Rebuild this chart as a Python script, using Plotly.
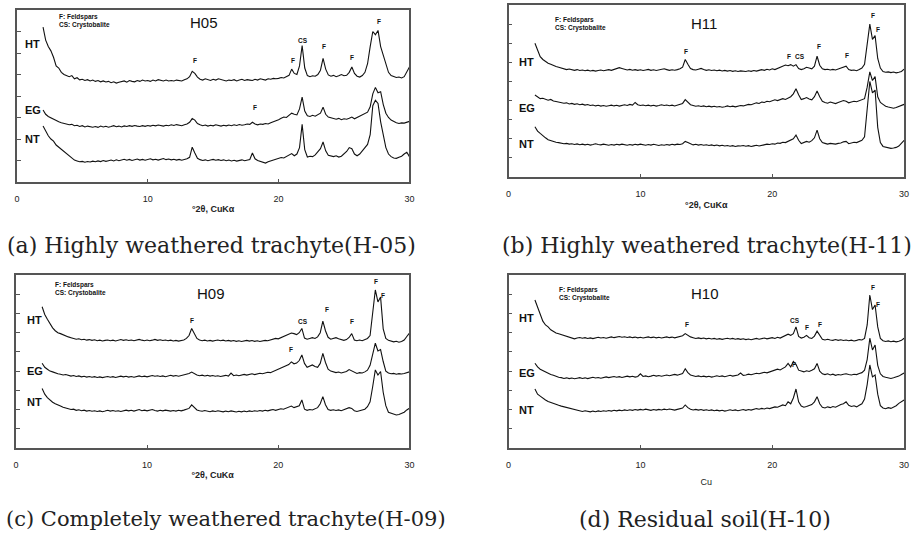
import plotly.graph_objects as go

# ---------------- data: scan positions (deg 2-theta) ----------------
TWO_THETA = [
    2.0, 2.2, 2.4, 2.6, 2.8, 3.0, 3.2, 3.4, 3.6, 3.8,
    4.0, 4.2, 4.4, 4.6, 4.8, 5.0, 5.2, 5.4, 5.6, 5.8,
    6.0, 6.2, 6.4, 6.6, 6.8, 7.0, 7.2, 7.4, 7.6, 7.8,
    8.0, 8.2, 8.4, 8.6, 8.8, 9.0, 9.2, 9.4, 9.6, 9.8,
    10.0, 10.2, 10.4, 10.6, 10.8, 11.0, 11.2, 11.4, 11.6, 11.8,
    12.0, 12.2, 12.4, 12.6, 12.8, 13.0, 13.2, 13.4, 13.6, 13.8,
    14.0, 14.2, 14.4, 14.6, 14.8, 15.0, 15.2, 15.4, 15.6, 15.8,
    16.0, 16.2, 16.4, 16.6, 16.8, 17.0, 17.2, 17.4, 17.6, 17.8,
    18.0, 18.2, 18.4, 18.6, 18.8, 19.0, 19.2, 19.4, 19.6, 19.8,
    20.0, 20.2, 20.4, 20.6, 20.8, 21.0, 21.2, 21.4, 21.6, 21.8,
    22.0, 22.2, 22.4, 22.6, 22.8, 23.0, 23.2, 23.4, 23.6, 23.8,
    24.0, 24.2, 24.4, 24.6, 24.8, 25.0, 25.2, 25.4, 25.6, 25.8,
    26.0, 26.2, 26.4, 26.6, 26.8, 27.0, 27.2, 27.4, 27.6, 27.8,
    28.0, 28.2, 28.4, 28.6, 28.8, 29.0, 29.2, 29.4, 29.6, 29.8,
    30.0,
]

# ---------------- H05 (offset intensities, arbitrary units) ----------------
H05_HT = [
    7.20, 6.60, 6.30, 6.10, 5.80, 5.40, 5.30, 5.10, 5.00, 4.95,
    4.90, 4.95, 4.80, 4.85, 4.75, 4.78, 4.72, 4.76, 4.70, 4.74,
    4.68, 4.72, 4.66, 4.70, 4.65, 4.68, 4.62, 4.66, 4.60, 4.64,
    4.66, 4.70, 4.64, 4.72, 4.68, 4.66, 4.72, 4.68, 4.74, 4.70,
    4.72, 4.68, 4.74, 4.70, 4.76, 4.72, 4.70, 4.74, 4.70, 4.72,
    4.70, 4.74, 4.72, 4.70, 4.76, 4.80, 4.90, 5.15, 5.05, 4.88,
    4.78, 4.74, 4.80, 4.76, 4.72, 4.78, 4.74, 4.80, 4.76, 4.72,
    4.70, 4.74, 4.72, 4.76, 4.70, 4.74, 4.78, 4.72, 4.76, 4.74,
    4.72, 4.78, 4.74, 4.80, 4.76, 4.74, 4.80, 4.78, 4.82, 4.80,
    4.82, 4.86, 4.84, 4.90, 4.96, 5.25, 5.05, 5.00, 5.40, 6.35,
    5.30, 4.95, 4.90, 4.94, 4.92, 5.00, 5.20, 5.75, 5.25, 4.98,
    4.92, 4.96, 4.90, 4.94, 5.00, 4.94, 4.96, 5.10, 5.35, 5.05,
    4.92, 4.88, 4.95, 5.10, 5.50, 6.30, 7.00, 6.85, 7.05, 6.30,
    5.90, 5.40, 5.10, 4.95, 4.90, 4.86, 4.88, 4.84, 4.90, 5.10,
    5.35,
]
H05_EG = [
    3.35, 3.15, 3.05, 2.98, 2.92, 2.85, 2.80, 2.76, 2.72, 2.70,
    2.66, 2.68, 2.62, 2.64, 2.58, 2.62, 2.56, 2.60, 2.57, 2.55,
    2.58, 2.54, 2.60, 2.56, 2.59, 2.55, 2.58, 2.62, 2.57, 2.60,
    2.56, 2.61, 2.58, 2.62, 2.59, 2.63, 2.60, 2.58, 2.62, 2.59,
    2.63, 2.60, 2.64, 2.61, 2.65, 2.62, 2.60, 2.64, 2.62, 2.66,
    2.63, 2.67, 2.64, 2.62, 2.66, 2.70, 2.78, 2.95, 2.88, 2.72,
    2.66, 2.62, 2.65, 2.60, 2.64, 2.61, 2.66, 2.62, 2.60, 2.64,
    2.61, 2.65, 2.62, 2.66, 2.63, 2.67, 2.64, 2.66, 2.70, 2.68,
    2.78, 2.70, 2.66, 2.70, 2.68, 2.72, 2.70, 2.76, 2.80, 2.86,
    2.90, 2.96, 3.02, 3.00, 3.10, 3.20, 3.15, 3.12, 3.40, 3.95,
    3.30, 3.08, 3.05, 3.10, 3.06, 3.12, 3.20, 3.48, 3.15, 3.02,
    2.98, 2.95, 2.92, 2.96, 2.90, 2.94, 2.92, 2.96, 3.02, 2.94,
    3.00, 3.05, 3.10, 3.16, 3.25, 3.50, 4.10, 4.40, 4.15, 4.20,
    3.60, 3.20, 3.00, 2.88, 2.80, 2.76, 2.72, 2.75, 2.74, 2.78,
    2.82,
]
H05_NT = [
    2.60, 2.35, 2.15, 2.00, 1.90, 1.72, 1.62, 1.50, 1.40, 1.30,
    1.18, 1.10, 1.02, 0.98, 0.94, 0.96, 0.92, 0.95, 0.93, 0.97,
    0.94, 0.98, 0.95, 1.00, 0.96, 0.99, 1.02, 0.98, 1.03, 0.99,
    1.02, 1.06, 1.01, 1.05, 1.00, 1.04, 1.07, 1.02, 1.05, 1.01,
    1.04, 1.08, 1.03, 1.06, 1.02, 1.05, 1.09, 1.04, 1.07, 1.03,
    1.06, 1.02, 1.05, 1.01, 1.04, 1.08, 1.15, 1.62, 1.35, 1.10,
    1.04, 1.00, 1.03, 0.99, 1.02, 1.05, 1.01, 1.04, 1.00, 1.03,
    0.99, 1.02, 0.98, 1.01, 0.97, 1.00, 1.03, 0.99, 1.02, 1.05,
    1.35, 1.08, 1.00, 0.96, 0.92, 0.88, 0.94, 0.98, 1.02, 1.06,
    1.10, 1.14, 1.12, 1.18, 1.24, 1.32, 1.22, 1.30, 1.60, 2.68,
    1.50, 1.16, 1.20, 1.18, 1.26, 1.40, 1.55, 1.86, 1.45, 1.24,
    1.20, 1.18, 1.22, 1.16, 1.20, 1.30, 1.42, 1.60, 1.55, 1.30,
    1.22, 1.30, 1.45, 1.60, 1.75, 2.20, 3.55, 3.80, 3.65, 2.80,
    2.20, 1.60, 1.30, 1.18, 1.12, 1.10, 1.15, 1.20, 1.30, 1.38,
    1.18,
]

# ---------------- H11 ----------------
H11_HT = [
    7.00, 6.60, 6.30, 6.15, 6.05, 5.95, 5.90, 5.82, 5.78, 5.74,
    5.70, 5.66, 5.62, 5.65, 5.60, 5.58, 5.62, 5.57, 5.60, 5.56,
    5.59, 5.55, 5.58, 5.54, 5.57, 5.60, 5.56, 5.59, 5.62, 5.58,
    5.62, 5.66, 5.72, 5.68, 5.64, 5.60, 5.63, 5.59, 5.62, 5.58,
    5.61, 5.57, 5.60, 5.63, 5.58, 5.61, 5.57, 5.60, 5.64, 5.66,
    5.62, 5.58, 5.61, 5.59, 5.62, 5.66, 5.75, 6.15, 5.90, 5.68,
    5.62, 5.60, 5.64, 5.68, 5.62, 5.58, 5.61, 5.57, 5.60, 5.56,
    5.59, 5.55, 5.58, 5.54, 5.57, 5.53, 5.56, 5.52, 5.55, 5.54,
    5.52, 5.56, 5.53, 5.57, 5.54, 5.58, 5.62, 5.58, 5.64, 5.60,
    5.66, 5.62, 5.68, 5.72, 5.78, 5.86, 5.82, 5.88, 5.80, 5.88,
    5.68, 5.62, 5.66, 5.74, 5.70, 5.66, 5.80, 6.32, 5.85, 5.66,
    5.62, 5.64, 5.60, 5.63, 5.60, 5.64, 5.68, 5.75, 5.80, 5.62,
    5.58, 5.60, 5.56, 5.62, 5.70, 5.90, 7.00, 8.00, 7.20, 7.40,
    6.20, 5.70, 5.52, 5.48, 5.50, 5.46, 5.49, 5.45, 5.48, 5.52,
    5.64,
]
H11_EG = [
    4.29, 4.18, 4.10, 4.12, 4.05, 4.02, 4.06, 3.98, 3.95, 3.92,
    3.90, 3.86, 3.88, 3.82, 3.85, 3.80, 3.83, 3.78, 3.81, 3.76,
    3.79, 3.74, 3.77, 3.72, 3.75, 3.71, 3.74, 3.70, 3.73, 3.76,
    3.72, 3.75, 3.71, 3.74, 3.78, 3.74, 3.80, 3.76, 3.90, 3.78,
    3.74, 3.77, 3.73, 3.76, 3.72, 3.75, 3.71, 3.74, 3.78, 3.74,
    3.77, 3.73, 3.76, 3.72, 3.75, 3.78, 3.85, 4.05, 3.92, 3.78,
    3.74, 3.70, 3.73, 3.69, 3.72, 3.68, 3.71, 3.67, 3.70, 3.66,
    3.69, 3.65, 3.68, 3.72, 3.68, 3.71, 3.67, 3.70, 3.74, 3.72,
    3.76, 3.80, 3.78, 3.84, 3.88, 3.85, 3.92, 3.90, 3.96, 3.94,
    3.98, 4.04, 4.00, 4.06, 4.10, 4.06, 4.14, 4.20, 4.35, 4.62,
    4.30, 4.05, 4.10, 4.16, 4.08, 4.04, 4.20, 4.50, 4.20, 3.96,
    3.90, 3.86, 3.92, 3.88, 3.84, 3.90, 3.94, 4.00, 3.96, 3.88,
    3.92, 3.96, 3.94, 4.00, 4.02, 4.10, 4.70, 5.50, 5.05, 5.25,
    4.20, 3.90, 3.80, 3.70, 3.66, 3.62, 3.60, 3.64, 3.68, 3.74,
    3.80,
]
H11_NT = [
    2.63, 2.40, 2.28, 2.15, 2.05, 1.95, 1.90, 1.86, 1.82, 1.80,
    1.78, 1.74, 1.76, 1.72, 1.74, 1.70, 1.73, 1.69, 1.72, 1.68,
    1.71, 1.67, 1.70, 1.74, 1.70, 1.68, 1.72, 1.69, 1.66, 1.70,
    1.67, 1.71, 1.68, 1.72, 1.69, 1.66, 1.70, 1.67, 1.71, 1.68,
    1.72, 1.69, 1.66, 1.70, 1.67, 1.71, 1.68, 1.65, 1.69, 1.66,
    1.70, 1.67, 1.71, 1.68, 1.72, 1.70, 1.74, 1.86, 1.80, 1.72,
    1.68, 1.71, 1.67, 1.70, 1.66, 1.69, 1.65, 1.68, 1.64, 1.67,
    1.63, 1.66, 1.62, 1.65, 1.61, 1.64, 1.60, 1.63, 1.62, 1.65,
    1.61, 1.64, 1.60, 1.63, 1.66, 1.62, 1.65, 1.68, 1.72, 1.70,
    1.74, 1.72, 1.78, 1.76, 1.82, 1.80, 1.86, 1.92, 2.00, 2.20,
    1.92, 1.75, 1.80, 1.86, 1.82, 1.90, 2.05, 2.45, 2.00, 1.80,
    1.76, 1.72, 1.76, 1.74, 1.72, 1.76, 1.78, 1.84, 1.86, 1.74,
    1.78, 1.82, 1.80, 1.86, 1.92, 2.10, 3.50, 5.00, 4.40, 4.55,
    2.60, 1.80, 1.60, 1.56, 1.54, 1.50, 1.52, 1.55, 1.62, 1.78,
    1.92,
]

# ---------------- H09 ----------------
H09_HT = [
    7.35, 6.95, 6.70, 6.45, 6.25, 6.10, 6.00, 5.95, 5.88, 5.84,
    5.78, 5.74, 5.70, 5.66, 5.68, 5.63, 5.66, 5.61, 5.64, 5.60,
    5.63, 5.58, 5.61, 5.57, 5.60, 5.62, 5.58, 5.61, 5.57, 5.60,
    5.64, 5.60, 5.63, 5.59, 5.62, 5.58, 5.61, 5.65, 5.61, 5.58,
    5.62, 5.58, 5.61, 5.65, 5.60, 5.63, 5.59, 5.62, 5.58, 5.61,
    5.57, 5.60, 5.56, 5.59, 5.62, 5.70, 5.85, 6.22, 5.95, 5.70,
    5.62, 5.58, 5.61, 5.57, 5.60, 5.56, 5.59, 5.62, 5.58, 5.61,
    5.57, 5.60, 5.56, 5.59, 5.55, 5.58, 5.54, 5.57, 5.60, 5.56,
    5.59, 5.55, 5.58, 5.54, 5.57, 5.60, 5.58, 5.62, 5.66, 5.70,
    5.68, 5.74, 5.80, 5.86, 5.92, 5.98, 5.95, 5.90, 6.00, 6.22,
    5.72, 5.66, 5.70, 5.74, 5.70, 5.78, 6.00, 6.60, 6.10, 5.76,
    5.66, 5.70, 5.74, 5.68, 5.62, 5.60, 5.64, 5.75, 5.95, 5.62,
    5.58, 5.62, 5.58, 5.64, 5.70, 5.85, 7.20, 8.22, 7.60, 7.85,
    6.20, 5.70, 5.60, 5.56, 5.52, 5.55, 5.50, 5.54, 5.62, 5.80,
    5.98,
]
H09_EG = [
    4.41, 4.20, 4.10, 4.00, 3.96, 3.90, 3.86, 3.84, 3.80, 3.82,
    3.78, 3.74, 3.77, 3.72, 3.75, 3.70, 3.73, 3.69, 3.72, 3.68,
    3.71, 3.67, 3.70, 3.66, 3.69, 3.72, 3.68, 3.71, 3.67, 3.70,
    3.74, 3.70, 3.73, 3.69, 3.72, 3.68, 3.71, 3.75, 3.71, 3.74,
    3.70, 3.73, 3.77, 3.73, 3.76, 3.72, 3.75, 3.71, 3.74, 3.78,
    3.74, 3.77, 3.73, 3.76, 3.80, 3.84, 3.88, 3.95, 3.86, 3.80,
    3.76, 3.79, 3.75, 3.78, 3.74, 3.77, 3.73, 3.76, 3.72, 3.75,
    3.78, 3.74, 3.90, 3.76, 3.80, 3.76, 3.79, 3.83, 3.79, 3.82,
    3.86, 3.82, 3.85, 3.89, 3.86, 3.90, 3.94, 3.92, 3.98, 4.04,
    4.08, 4.14, 4.20, 4.26, 4.34, 4.48, 4.38, 4.42, 4.55, 4.84,
    4.40, 4.20, 4.28, 4.32, 4.24, 4.20, 4.40, 4.92, 4.45, 4.10,
    4.00, 3.96, 3.92, 3.95, 3.90, 3.94, 3.98, 4.08, 4.02, 3.92,
    3.88, 3.92, 3.90, 3.96, 4.05, 4.30, 4.90, 5.45, 5.05, 5.12,
    4.50, 4.00, 3.90, 3.86, 3.88, 3.84, 3.87, 3.85, 3.88, 3.92,
    3.96,
]
H09_NT = [
    3.10, 2.80, 2.62, 2.48, 2.38, 2.30, 2.22, 2.18, 2.12, 2.08,
    2.05, 2.00, 2.02, 1.96, 1.99, 1.94, 1.97, 1.92, 1.95, 1.91,
    1.94, 1.90, 1.93, 1.89, 1.92, 1.96, 1.92, 1.95, 1.91, 1.94,
    1.90, 1.93, 1.97, 1.93, 1.96, 1.92, 1.95, 2.00, 1.94, 1.97,
    1.93, 1.96, 2.00, 1.95, 1.92, 1.96, 1.93, 1.97, 1.94, 1.92,
    1.95, 1.92, 1.96, 1.93, 1.97, 2.00, 2.06, 2.24, 2.10, 1.98,
    1.94, 1.91, 1.95, 1.92, 1.89, 1.93, 1.90, 1.94, 1.91, 1.88,
    1.92, 1.89, 1.93, 1.90, 1.87, 1.91, 1.88, 1.92, 1.89, 1.93,
    1.90, 1.94, 1.91, 1.95, 1.92, 1.96, 1.93, 1.97, 2.00, 1.96,
    2.00, 2.04, 2.02, 2.08, 2.12, 2.18, 2.10, 2.14, 2.20, 2.50,
    2.02, 1.96, 2.00, 1.98, 2.02, 2.10, 2.30, 2.67, 2.25, 2.00,
    1.96, 1.99, 1.95, 1.98, 1.94, 2.00, 2.04, 2.10, 2.06, 1.94,
    1.90, 1.94, 1.98, 2.02, 2.15, 2.40, 3.20, 4.06, 3.80, 3.98,
    2.90, 2.20, 1.86, 1.80, 1.76, 1.72, 1.74, 1.78, 1.86, 1.98,
    2.07,
]

# ---------------- H10 ----------------
H10_HT = [
    7.70, 7.30, 6.95, 6.60, 6.40, 6.30, 6.15, 6.05, 5.98, 5.94,
    5.90, 5.86, 5.82, 5.78, 5.74, 5.68, 5.72, 5.75, 5.71, 5.74,
    5.70, 5.73, 5.69, 5.72, 5.76, 5.72, 5.75, 5.71, 5.74, 5.78,
    5.74, 5.77, 5.80, 5.76, 5.79, 5.75, 5.78, 5.74, 5.77, 5.73,
    5.76, 5.72, 5.75, 5.78, 5.74, 5.77, 5.73, 5.76, 5.72, 5.75,
    5.78, 5.74, 5.77, 5.73, 5.76, 5.79, 5.84, 5.95, 5.86, 5.78,
    5.74, 5.70, 5.73, 5.69, 5.72, 5.68, 5.71, 5.67, 5.70, 5.66,
    5.69, 5.65, 5.68, 5.71, 5.67, 5.70, 5.66, 5.69, 5.65, 5.68,
    5.64, 5.67, 5.63, 5.66, 5.70, 5.66, 5.69, 5.72, 5.68, 5.71,
    5.74, 5.70, 5.76, 5.72, 5.78, 5.84, 5.92, 5.86, 5.95, 6.30,
    5.80, 5.72, 5.76, 5.86, 5.74, 5.70, 5.82, 6.08, 5.90, 5.66,
    5.62, 5.66, 5.62, 5.60, 5.64, 5.60, 5.63, 5.59, 5.62, 5.58,
    5.61, 5.57, 5.60, 5.64, 5.62, 5.70, 6.40, 7.96, 7.20, 7.44,
    6.30, 5.70, 5.58, 5.54, 5.57, 5.53, 5.56, 5.52, 5.55, 5.60,
    5.71,
]
H10_EG = [
    4.41, 4.22, 4.10, 4.02, 3.95, 3.88, 3.82, 3.78, 3.72, 3.68,
    3.66, 3.62, 3.65, 3.61, 3.64, 3.60, 3.63, 3.66, 3.62, 3.65,
    3.61, 3.64, 3.68, 3.64, 3.67, 3.63, 3.66, 3.70, 3.66, 3.69,
    3.72, 3.68, 3.71, 3.67, 3.70, 3.74, 3.70, 3.73, 3.69, 3.72,
    3.86, 3.72, 3.75, 3.71, 3.74, 3.78, 3.74, 3.77, 3.73, 3.76,
    3.80, 3.76, 3.79, 3.83, 3.79, 3.82, 3.88, 4.12, 3.92, 3.80,
    3.76, 3.72, 3.75, 3.71, 3.74, 3.70, 3.73, 3.69, 3.72, 3.76,
    3.72, 3.75, 3.71, 3.74, 3.78, 3.74, 3.77, 3.80, 3.90, 3.78,
    3.80, 3.84, 3.81, 3.85, 3.89, 3.86, 3.90, 3.94, 3.91, 3.96,
    4.00, 4.04, 4.10, 4.06, 4.14, 4.22, 4.40, 4.22, 4.50, 4.35,
    4.05, 4.00, 3.96, 4.02, 3.98, 4.04, 4.12, 4.40, 4.00, 3.86,
    3.82, 3.86, 3.80, 3.84, 3.78, 3.82, 3.80, 3.84, 3.86, 3.82,
    3.80, 3.84, 3.82, 3.88, 3.92, 4.05, 4.60, 5.71, 5.10, 5.36,
    4.30, 3.86, 3.72, 3.68, 3.66, 3.62, 3.65, 3.68, 3.74, 3.82,
    3.90,
]
H10_NT = [
    3.07, 2.80, 2.70, 2.58, 2.50, 2.42, 2.36, 2.30, 2.26, 2.22,
    2.18, 2.14, 2.10, 2.06, 2.02, 2.00, 1.96, 1.93, 1.90, 1.94,
    1.91, 1.88, 1.92, 1.89, 1.93, 1.90, 1.94, 1.91, 1.95, 1.92,
    1.96, 1.93, 1.97, 1.94, 1.98, 1.95, 1.99, 1.96, 2.00, 1.97,
    2.01, 1.98, 2.02, 1.99, 1.96, 2.00, 1.97, 2.01, 1.98, 2.02,
    1.99, 2.03, 2.00, 1.97, 2.01, 2.04, 2.08, 2.24, 2.10, 2.02,
    1.98, 2.01, 1.97, 2.00, 1.96, 1.99, 1.95, 1.98, 1.94, 1.97,
    1.93, 1.96, 1.92, 1.95, 1.99, 1.95, 1.98, 1.94, 1.97, 2.00,
    1.96, 2.00, 1.97, 2.01, 2.05, 2.02, 2.06, 2.03, 2.08, 2.05,
    2.10, 2.14, 2.12, 2.18, 2.24, 2.20, 2.40, 2.30, 2.60, 3.07,
    2.40, 2.18, 2.12, 2.16, 2.20, 2.26, 2.40, 2.67, 2.30, 2.12,
    2.08, 2.14, 2.10, 2.16, 2.12, 2.20, 2.26, 2.30, 2.40, 2.22,
    2.16, 2.20, 2.14, 2.22, 2.30, 2.55, 3.30, 4.32, 3.70, 3.80,
    2.80, 2.20, 2.08, 2.04, 2.10, 2.06, 2.12, 2.20, 2.32, 2.40,
    2.50,
]

SAMPLE_NAMES = ["HT", "EG", "NT"]
PANEL_IDS = ["H05", "H11", "H09", "H10"]
CAPTIONS = [
    "(a) Highly weathered trachyte(H-05)",
    "(b) Highly weathered trachyte(H-11)",
    "(c) Completely weathered trachyte(H-09)",
    "(d) Residual soil(H-10)",
]
X_TITLES = ["°2θ, CuKα", "°2θ, CuKα", "°2θ, CuKα", "Cu"]
X_TICKS = [0, 10, 20, 30]
LEGEND_TEXT = "F: Feldspars<br>CS: Crystobalite"

SERIES = [
    [H05_HT, H05_EG, H05_NT],
    [H11_HT, H11_EG, H11_NT],
    [H09_HT, H09_EG, H09_NT],
    [H10_HT, H10_EG, H10_NT],
]
for grp in SERIES:
    for s in grp:
        assert len(s) == len(TWO_THETA), len(s)

# peak labels (text, 2theta, height)
PEAKS = [
    [("F", 13.58, 5.67), ("F", 21.08, 5.67), ("CS", 21.87, 6.6), ("F", 23.5, 6.29),
     ("F", 25.58, 5.8), ("F", 27.65, 7.46), ("F", 18.18, 3.47)],
    [("F", 13.46, 6.56), ("F", 21.25, 6.3), ("CS", 22.1, 6.3), ("F", 23.56, 6.82),
     ("F", 25.64, 6.34), ("F", 27.62, 8.43), ("F", 28.0, 7.7)],
    [("F", 13.45, 6.61), ("CS", 21.9, 6.57), ("F", 23.7, 7.18), ("F", 25.6, 6.57),
     ("F", 27.44, 8.65), ("F", 27.99, 7.93), ("F", 20.99, 5.1)],
    [("F", 13.53, 6.43), ("CS", 21.75, 6.61), ("F", 22.6, 6.28), ("F", 23.63, 6.43),
     ("F", 27.62, 8.34), ("F", 28.0, 7.47), ("F", 21.63, 4.32)],
]
# sample label positions (x, [yHT, yEG, yNT])
SAMPLE_LABEL_POS = [
    (0.45, [6.42, 3.35, 2.0]),
    (0.62, [6.0, 3.6, 1.73]),
    (0.66, [6.66, 4.0, 2.41]),
    (0.62, [6.75, 3.89, 1.98]),
]
LEGEND_POS = [(3.1, 7.51), (3.38, 8.01), (2.8, 8.27), (3.64, 8.0)]
TITLE_POS = [(14.3, 7.44), (14.79, 8.05), (14.89, 8.05), (14.91, 8.05)]
Y_MAX = [8, 9, 9, 9]

W, H = 920, 534
# plot boxes in pixels: left, right, top, bottom
BOXES = [(14, 410, 10, 182), (510, 909, 5, 177), (13, 410, 275, 448), (510, 909, 275, 448)]
# caption anchor (x px, y px, xanchor, font size)
CAPTION_POS = [(210, 245, "center", 22), (710, 245, "center", 22),
               (1, 519, "left", 21), (708, 519, "center", 22)]
TITLE_STANDOFF = [3, 4, 3, 10]

AX = "#555555"
fig = go.Figure()
layout = dict(width=W, height=H, margin=dict(l=0, r=0, t=0, b=0),
              paper_bgcolor="white", plot_bgcolor="white", showlegend=False)
annotations = []
for i in range(4):
    n = "" if i == 0 else str(i + 1)
    xa, ya = "x" + n, "y" + n
    l, r, t, b = BOXES[i]
    for s, name in zip(SERIES[i], SAMPLE_NAMES):
        fig.add_trace(go.Scatter(x=TWO_THETA, y=s, mode="lines", name=f"{PANEL_IDS[i]} {name}",
                                 line=dict(color="#111111", width=1.1),
                                 xaxis=xa, yaxis=ya, hoverinfo="skip"))
    layout["xaxis" + n] = dict(
        domain=[l / W, r / W], range=[0, 30], anchor=ya,
        tickmode="array", tickvals=X_TICKS, ticktext=[str(v) for v in X_TICKS],
        ticks="inside", ticklen=3, tickcolor=AX, tickwidth=1,
        showline=True, mirror=True, linecolor=AX, linewidth=1.5,
        showgrid=False, zeroline=False, ticklabelstandoff=7,
        tickfont=dict(family="Liberation Sans", size=9, color="#222222"),
        title=dict(text=("<b>%s</b>" % X_TITLES[i]) if i < 3 else X_TITLES[i],
                   standoff=TITLE_STANDOFF[i],
                   font=dict(family="Liberation Sans", size=9, color="#222222")),
    )
    layout["yaxis" + n] = dict(
        domain=[1 - b / H, 1 - t / H], range=[0, Y_MAX[i]], anchor=xa,
        tickmode="linear", tick0=0, dtick=1, ticks="inside", ticklen=4,
        tickcolor=AX, tickwidth=1, showticklabels=False,
        showline=True, mirror=True, linecolor=AX, linewidth=1.5,
        showgrid=False, zeroline=False,
    )
    # sample labels
    sx, sys_ = SAMPLE_LABEL_POS[i]
    for name, yy in zip(SAMPLE_NAMES, sys_):
        annotations.append(dict(x=sx, y=yy, xref=xa, yref=ya, text="<b>%s</b>" % name,
                                showarrow=False, xanchor="left", yanchor="middle",
                                font=dict(family="Liberation Sans", size=11, color="#111111")))
    # legend text
    lx, ly = LEGEND_POS[i]
    annotations.append(dict(x=lx, y=ly, xref=xa, yref=ya, text="<b>%s</b>" % LEGEND_TEXT,
                            showarrow=False, xanchor="left", yanchor="middle", align="left",
                            font=dict(family="Liberation Sans", size=6.5, color="#111111")))
    # panel title
    tx, ty = TITLE_POS[i]
    annotations.append(dict(x=tx, y=ty, xref=xa, yref=ya, text=PANEL_IDS[i],
                            showarrow=False, xanchor="center", yanchor="middle",
                            font=dict(family="Liberation Sans", size=15, color="#111111")))
    # peak labels
    for txt, px, py in PEAKS[i]:
        annotations.append(dict(x=px, y=py, xref=xa, yref=ya, text="<b>%s</b>" % txt,
                                showarrow=False, xanchor="center", yanchor="middle",
                                font=dict(family="Liberation Sans", size=6.5, color="#111111")))
    # caption
    cx, cy, canc, csz = CAPTION_POS[i]
    annotations.append(dict(x=cx / W, y=1 - cy / H, xref="paper", yref="paper",
                            text=CAPTIONS[i], showarrow=False, xanchor=canc, yanchor="middle",
                            font=dict(family="DejaVu Serif", size=csz, color="#222222")))

layout["annotations"] = annotations
fig.update_layout(**layout)
fig.write_html("out.html")
